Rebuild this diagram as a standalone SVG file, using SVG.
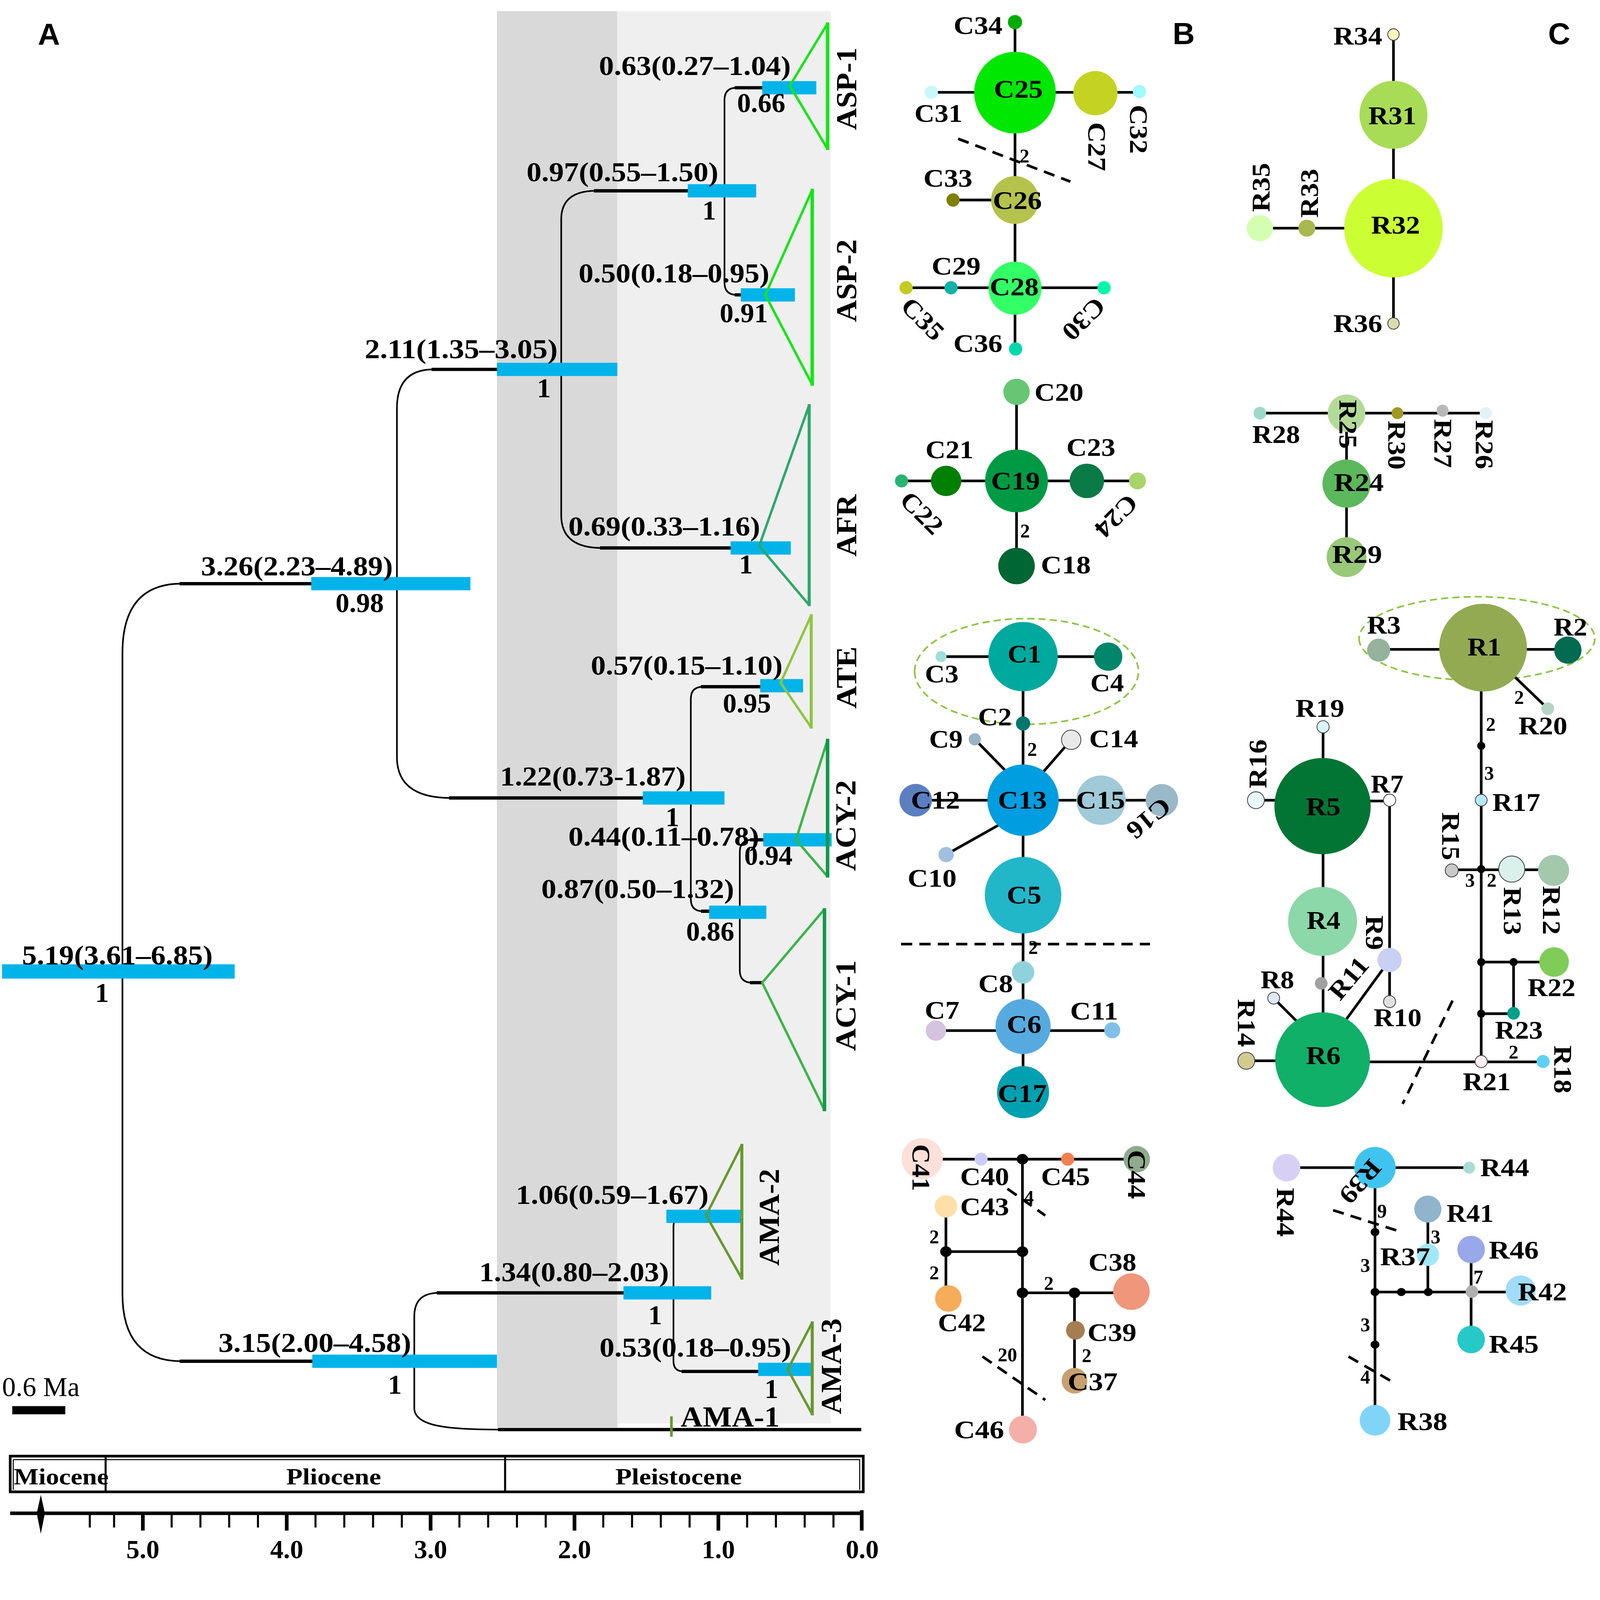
<svg xmlns="http://www.w3.org/2000/svg" width="5039" height="4919" viewBox="0 0 5039 4919" preserveAspectRatio="xMinYMin meet">
<style>
svg:root{width:100vw;height:100vh}
.s{font-family:"Liberation Serif","Times New Roman",serif;font-weight:bold;fill:#000}
.r{font-family:"Liberation Serif","Times New Roman",serif;font-weight:normal;fill:#000}
.tl{font-size:27px;text-anchor:middle}
.cl{font-size:28px;text-anchor:middle}
.nl{font-size:25px;text-anchor:middle}
.mu{font-size:19px;text-anchor:middle}
.ax{font-size:26px;text-anchor:middle}
.ep{font-size:23px;text-anchor:middle}
.pl{font-family:"Liberation Sans",Arial,sans-serif;font-weight:bold;font-size:30px;text-anchor:middle;fill:#000}
.e{stroke:#000;stroke-width:2.6;fill:none}
.br{stroke:#000;stroke-width:3.2;fill:none}
.vb{stroke:#000;stroke-width:1.6;fill:none}
.bar{fill:#00b4ea}
.dash{stroke:#000;stroke-width:2.6;stroke-dasharray:11 7;fill:none}
.gd{stroke:#8dc63f;stroke-width:1.6;stroke-dasharray:7 4;fill:none}
.o{stroke:#444;stroke-width:0.8}
.dot{fill:#000}
.tri{fill:none;stroke-width:2.4;stroke-linejoin:miter}
</style>
<rect x="0" y="0" width="5039" height="4919" fill="#fff"/>
<g transform="scale(3.21365)">
<!-- panel letters -->
<text class="pl" x="48" y="44">A</text>
<text class="pl" x="1160" y="43.4">B</text>
<text class="pl" x="1528" y="43.4">C</text>

<!-- background epochs shading -->
<rect x="487" y="11" width="118" height="1388" fill="#d9d9d9"/>
<rect x="605" y="11" width="209" height="1384" fill="#f0eff0"/>

<!-- tree branches -->
<g id="tree-connectors">
<path class="vb" d="M178 572 Q120 572 120 640 V1268 Q120 1334 178 1334"/>
<path class="br" d="M176 572 H306 M176 1334 H307"/>
<path class="vb" d="M425 362 Q389 362 389 400 V742 Q389 782 442 782"/>
<path class="br" d="M423 362 H488 M440 782 H631"/>
<path class="vb" d="M584 187 Q550 187 550 215 V505 Q550 537 590 537"/>
<path class="br" d="M582 187 H675 M588 537 H717"/>
<path class="vb" d="M722 86 Q710 86 710 98 V277 Q710 289 722 289"/>
<path class="br" d="M720 86 H748 M720 289 H727"/>
<path class="vb" d="M689 673 Q677 673 677 685 V881 Q677 893 689 893"/>
<path class="br" d="M687 673 H746 M687 893 H696"/>
<path class="vb" d="M737 823 Q725 823 725 835 V951 Q725 963 737 963"/>
<path class="br" d="M735 823 H749 M735 963 H748"/>
<path class="vb" d="M430 1267 Q406 1267 406 1290 V1380 C406 1398 440 1401 490 1401"/>
<path class="br" d="M428 1267 H612 M488 1401 H844"/>
<path class="vb" d="M670 1192 Q660 1192 660 1202 V1334 Q660 1344 670 1344"/>
<path class="br" d="M668 1344 H744 M668 1192 H692"/>
</g>

<!-- tree nodes: HPD bars and labels -->
<g id="node-root"><rect class="bar" x="2" y="945" width="228" height="14"/>
<text class="s tl" x="115" y="945" textLength="187" lengthAdjust="spacingAndGlyphs">5.19(3.61–6.85)</text>
<text class="s tl" x="100" y="982">1</text></g>
<g id="node-326"><rect class="bar" x="305" y="565.5" width="156" height="13"/>
<text class="s tl" x="291" y="564" textLength="188" lengthAdjust="spacingAndGlyphs">3.26(2.23–4.89)</text>
<text class="s tl" x="352.5" y="600">0.98</text></g>
<g id="node-211"><rect class="bar" x="487" y="355.5" width="118" height="13"/>
<text class="s tl" x="452" y="351" textLength="189" lengthAdjust="spacingAndGlyphs">2.11(1.35–3.05)</text>
<text class="s tl" x="533" y="389.5">1</text></g>
<g id="node-097"><rect class="bar" x="674" y="180.5" width="67" height="13"/>
<text class="s tl" x="610" y="177.5" textLength="188" lengthAdjust="spacingAndGlyphs">0.97(0.55–1.50)</text>
<text class="s tl" x="695" y="215">1</text></g>
<g id="node-063"><rect class="bar" x="747" y="79.5" width="53" height="13"/>
<text class="s tl" x="681" y="73.5" textLength="188" lengthAdjust="spacingAndGlyphs">0.63(0.27–1.04)</text>
<text class="s tl" x="746" y="109.7">0.66</text></g>
<g id="node-050"><rect class="bar" x="726" y="282.5" width="53" height="13"/>
<text class="s tl" x="660.5" y="276.8" textLength="187" lengthAdjust="spacingAndGlyphs">0.50(0.18–0.95)</text>
<text class="s tl" x="729" y="316">0.91</text></g>
<g id="node-069"><rect class="bar" x="716" y="530.5" width="59" height="13"/>
<text class="s tl" x="651" y="525" textLength="188" lengthAdjust="spacingAndGlyphs">0.69(0.33–1.16)</text>
<text class="s tl" x="731" y="562">1</text></g>
<g id="node-122"><rect class="bar" x="630" y="775.5" width="80" height="13"/>
<text class="s tl" x="581" y="770" textLength="182" lengthAdjust="spacingAndGlyphs">1.22(0.73-1.87)</text>
<text class="s tl" x="659" y="809.5">1</text></g>
<g id="node-057"><rect class="bar" x="745" y="665.5" width="42" height="13"/>
<text class="s tl" x="673" y="661.3" textLength="188" lengthAdjust="spacingAndGlyphs">0.57(0.15–1.10)</text>
<text class="s tl" x="732" y="698.4">0.95</text></g>
<g id="node-044"><rect class="bar" x="748" y="816.5" width="67" height="13"/>
<text class="s tl" x="650.5" y="828.8" textLength="187" lengthAdjust="spacingAndGlyphs">0.44(0.11–0.78)</text>
<text class="s tl" x="753" y="847.7">0.94</text></g>
<g id="node-087"><rect class="bar" x="695" y="887.5" width="56" height="13"/>
<text class="s tl" x="625" y="880" textLength="189" lengthAdjust="spacingAndGlyphs">0.87(0.50–1.32)</text>
<text class="s tl" x="696" y="922">0.86</text></g>
<g id="node-315"><rect class="bar" x="306" y="1327.5" width="181" height="13"/>
<text class="s tl" x="308.5" y="1324.8" textLength="189" lengthAdjust="spacingAndGlyphs">3.15(2.00–4.58)</text>
<text class="s tl" x="387" y="1366">1</text></g>
<g id="node-134"><rect class="bar" x="611" y="1260.5" width="86" height="13"/>
<text class="s tl" x="562.6" y="1255.5" textLength="186" lengthAdjust="spacingAndGlyphs">1.34(0.80–2.03)</text>
<text class="s tl" x="642" y="1297.7">1</text></g>
<g id="node-106"><rect class="bar" x="653" y="1185.5" width="73" height="13"/>
<text class="s tl" x="600" y="1180" textLength="189" lengthAdjust="spacingAndGlyphs">1.06(0.59–1.67)</text></g>
<g id="node-053"><rect class="bar" x="743" y="1335.5" width="52" height="13"/>
<text class="s tl" x="681.5" y="1329.4" textLength="188" lengthAdjust="spacingAndGlyphs">0.53(0.18–0.95)</text>
<text class="s tl" x="756" y="1370">1</text></g>

<!-- collapsed clades -->
<g id="clade-ASP1"><path class="tri" stroke="#14e614" d="M811 23 L774 84 L811 146"/><path stroke="#14e614" stroke-width="3.4" d="M811 22 V147"/>
<text class="s cl" transform="translate(830 87) rotate(-90)" y="9.3" textLength="81" lengthAdjust="spacingAndGlyphs">ASP-1</text></g>
<g id="clade-ASP2"><path class="tri" stroke="#14e614" d="M796 186 L750 289 L796 377"/><path stroke="#14e614" stroke-width="3.4" d="M796 185 V378"/>
<text class="s cl" transform="translate(830 275) rotate(-90)" y="9.3" textLength="81" lengthAdjust="spacingAndGlyphs">ASP-2</text></g>
<g id="clade-AFR"><path class="tri" stroke="#2aa86a" d="M793 397 L744 535 L793 593"/><path stroke="#2aa86a" stroke-width="3" d="M793 396 V594"/>
<text class="s cl" transform="translate(830 515) rotate(-90)" y="9.3" textLength="61" lengthAdjust="spacingAndGlyphs">AFR</text></g>
<g id="clade-ATE"><path class="tri" stroke="#8dc63f" d="M795 603 L765 669 L795 713"/><path stroke="#8dc63f" stroke-width="3" d="M795 602 V714"/>
<text class="s cl" transform="translate(830 664) rotate(-90)" y="9.3" textLength="61" lengthAdjust="spacingAndGlyphs">ATE</text></g>
<g id="clade-ACY2"><path class="tri" stroke="#3ab54a" d="M811 725 L780 823 L811 859"/><path stroke="#0e9a4a" stroke-width="3.4" d="M811 724 V860"/>
<text class="s cl" transform="translate(829 809) rotate(-90)" y="9.3" textLength="89" lengthAdjust="spacingAndGlyphs">ACY-2</text></g>
<g id="clade-ACY1"><path class="tri" stroke="#3ab54a" d="M808 891 L747 963 L808 1088"/><path stroke="#0e9a4a" stroke-width="3.4" d="M808 890 V1089"/>
<text class="s cl" transform="translate(829 985.5) rotate(-90)" y="9.3" textLength="89" lengthAdjust="spacingAndGlyphs">ACY-1</text></g>
<g id="clade-AMA2"><path class="tri" stroke="#66992e" d="M727 1122 L692 1191 L727 1253"/><path stroke="#66992e" stroke-width="3" d="M727 1121 V1254"/>
<text class="s cl" transform="translate(754 1193) rotate(-90)" y="9.3" textLength="95" lengthAdjust="spacingAndGlyphs">AMA-2</text></g>
<g id="clade-AMA3"><path class="tri" stroke="#66992e" d="M796 1296 L772 1342 L796 1386"/><path stroke="#66992e" stroke-width="3" d="M796 1295 V1387"/>
<text class="s cl" transform="translate(815 1339) rotate(-90)" y="9.3" textLength="94" lengthAdjust="spacingAndGlyphs">AMA-3</text></g>
<g id="clade-AMA1"><path stroke="#66992e" stroke-width="2.6" d="M658 1388 V1408"/>
<text class="s cl" x="715.5" y="1398" textLength="97" lengthAdjust="spacingAndGlyphs">AMA-1</text></g>

<!-- scale bar -->
<g id="scale-bar"><rect x="12" y="1378" width="52" height="8" fill="#000"/>
<text class="r" x="2" y="1368" font-size="27" textLength="76" lengthAdjust="spacingAndGlyphs">0.6 Ma</text></g>

<!-- epoch box -->
<g id="epochs">
<rect x="10" y="1427" width="836" height="35" fill="none" stroke="#000" stroke-width="2.6"/>
<path d="M13 1430.5 H843 M13 1430.5 V1460 M842.5 1430.5 V1460" stroke="#000" stroke-width="1" fill="none"/>
<path d="M103.5 1427 V1462 M495 1427 V1462" stroke="#000" stroke-width="2"/>
<text class="s ep" x="60" y="1454.5" textLength="93" lengthAdjust="spacingAndGlyphs">Miocene</text>
<text class="s ep" x="327" y="1454.5" textLength="93" lengthAdjust="spacingAndGlyphs">Pliocene</text>
<text class="s ep" x="665" y="1454.5" textLength="124" lengthAdjust="spacingAndGlyphs">Pleistocene</text>
</g>

<!-- time axis -->
<g id="time-axis">
<path d="M10 1483 H846" stroke="#000" stroke-width="3.5"/>
<path stroke="#000" stroke-width="2" d="M88 1483 V1497 M111.8 1483 V1497 M168.2 1483 V1497 M196.4 1483 V1497 M224.6 1483 V1497 M252.8 1483 V1497 M309.2 1483 V1497 M337.4 1483 V1497 M365.6 1483 V1497 M393.8 1483 V1497 M450.2 1483 V1497 M478.4 1483 V1497 M506.6 1483 V1497 M534.8 1483 V1497 M591.2 1483 V1497 M619.4 1483 V1497 M647.6 1483 V1497 M675.8 1483 V1497 M732.2 1483 V1497 M760.4 1483 V1497 M788.6 1483 V1497 M816.8 1483 V1497"/>
<path stroke="#000" stroke-width="3.6" d="M140 1483 V1500 M281 1483 V1500 M422 1483 V1500 M563 1483 V1500 M704 1483 V1500 M844.5 1480 V1500"/>
<path d="M40 1465 L44 1483 L40 1503 L36 1483 Z" fill="#000"/>
<text class="s ax" x="140" y="1527">5.0</text>
<text class="s ax" x="281" y="1527">4.0</text>
<text class="s ax" x="422" y="1527">3.0</text>
<text class="s ax" x="563" y="1527">2.0</text>
<text class="s ax" x="704" y="1527">1.0</text>
<text class="s ax" x="845" y="1527">0.0</text>
</g>

<!-- ===== Panel B connectors ===== -->
<g id="connectors-B">
<path class="e" d="M994.7 21.7 V342 M912.7 90.5 H1116.7 M934 196 H994.7 M888 282 H1082"/>
<path class="dash" d="M939 136 L1049 178"/>
<path class="e" d="M996.2 384 V554.7 M883.5 471.3 H1114.7"/>
<path class="gd" d="M896.3 658 A109.7 51.8 0 1 0 1115.7 658 A109.7 51.8 0 1 0 896.3 658 Z"/>
<path class="e" d="M922.2 643.5 H1086 M1002.6 643.5 V1070.3 M955.3 724.5 L990 760 M1049.8 725 L1015 765 M927.2 837.5 L985 805 M897.4 784.2 H1138.6 M917.2 1010 H1090"/>
<path class="dash" d="M883 925.2 H1127"/>
<path class="e" d="M903.8 1136 H1114 M1002 1136 V1401 M927 1182 V1272.5 M927 1226.6 H1002 M1002 1267 H1108.8 M1053 1267 V1353"/>
<path class="dash" d="M987.3 1165 L1024.4 1191.2 M962.8 1329.4 L1024.4 1372"/>
</g>

<!-- ===== Panel C connectors ===== -->
<g id="connectors-C">
<path class="e" d="M1365.6 33.8 V317 M1234.7 223.6 H1365.6"/>
<path class="e" d="M1234.7 404.9 H1456 M1319.6 404.9 V546"/>
<path class="gd" d="M1331.9 625.8 A115.5 41 0 1 0 1562.9 625.8 A115.5 41 0 1 0 1331.9 625.8 Z"/>
<path class="e" d="M1351.1 636.4 H1536.5 M1480 659 L1516.8 694.5 M1451.6 634.7 V1040.3 M1422.7 852.4 H1522.5 M1451.6 942.8 H1523 M1483.3 942.8 V993 M1451.6 993.4 H1483.3 M1296.1 1040.6 H1512.2 M1221.4 1039.6 H1296.1 M1248.2 978.2 L1275 1005 M1296.6 712.3 V1038 M1230.8 784.2 H1296.1 M1296.1 785 H1361.8 M1361.8 784.2 V981.6 M1361.8 940.8 L1315 1005"/>
<path class="dash" d="M1423.5 980.6 L1374.6 1081.8"/>
<path class="e" d="M1260.8 1144.3 H1439.8 M1347.5 1144.3 V1391.9 M1347.5 1266.2 H1490.2 M1399.3 1184.9 V1266.2 M1441.7 1224.5 V1312.7"/>
<path class="dash" d="M1306.4 1186 L1368.6 1205.8 M1321.5 1329.4 L1363 1353.3"/>
</g>

<!-- ===== Panel B nodes ===== -->
<g id="C34"><circle cx="994.7" cy="21.7" r="7" fill="#00ad00"/><text class="s nl" x="958.5" y="33.3" textLength="48" lengthAdjust="spacingAndGlyphs">C34</text></g>
<g id="C25"><circle cx="994.7" cy="90.8" r="40" fill="#00e800"/><text class="s nl" x="998" y="95.6" textLength="48" lengthAdjust="spacingAndGlyphs">C25</text></g>
<g id="C31"><circle cx="912.7" cy="90.4" r="6.5" fill="#c8f8fa"/><text class="s nl" x="919.7" y="119.6" textLength="47" lengthAdjust="spacingAndGlyphs">C31</text></g>
<g id="C27"><circle cx="1073.5" cy="91.3" r="21.7" fill="#c4d322"/><text class="s nl" transform="translate(1075 143.8) rotate(90)" y="8.3" textLength="48" lengthAdjust="spacingAndGlyphs">C27</text></g>
<g id="C32"><circle cx="1116.7" cy="89.7" r="6.5" fill="#a0faff"/><text class="s nl" transform="translate(1115.8 126.7) rotate(90)" y="8.3" textLength="48" lengthAdjust="spacingAndGlyphs">C32</text></g>
<g id="C26"><circle cx="994.7" cy="196" r="23.4" fill="#b5c24c"/><text class="s nl" x="997" y="204.9" textLength="48" lengthAdjust="spacingAndGlyphs">C26</text></g>
<g id="C33"><circle cx="934" cy="196" r="6.5" fill="#7f7f00"/><text class="s nl" x="929" y="182.9" textLength="48" lengthAdjust="spacingAndGlyphs">C33</text></g>
<g id="C28"><circle cx="994.7" cy="282.5" r="26" fill="#33ff66"/><text class="s nl" x="994" y="289.5" textLength="48" lengthAdjust="spacingAndGlyphs">C28</text></g>
<g id="C29"><circle cx="932" cy="282" r="6.5" fill="#13b3a8"/><text class="s nl" x="937" y="269.3" textLength="48" lengthAdjust="spacingAndGlyphs">C29</text></g>
<g id="C35"><circle cx="888" cy="282" r="6.5" fill="#c2cc22"/><text class="s nl" transform="translate(904.3 312.6) rotate(45)" y="8.3" textLength="48" lengthAdjust="spacingAndGlyphs">C35</text></g>
<g id="C30"><circle cx="1082" cy="282" r="6.5" fill="#00f7aa"/><text class="s nl" transform="translate(1062.1 312.6) rotate(135)" y="8.3" textLength="48" lengthAdjust="spacingAndGlyphs">C30</text></g>
<g id="C36"><circle cx="995.3" cy="342" r="6.5" fill="#00d8aa"/><text class="s nl" x="958.4" y="344.9" textLength="48" lengthAdjust="spacingAndGlyphs">C36</text></g>

<g id="C20"><circle cx="996.2" cy="384" r="12.9" fill="#66c673"/><text class="s nl" x="1037.8" y="392.9" textLength="48" lengthAdjust="spacingAndGlyphs">C20</text></g>
<g id="C19"><circle cx="996.2" cy="471.3" r="30.8" fill="#009a44"/><text class="s nl" x="995.2" y="479.8" textLength="48" lengthAdjust="spacingAndGlyphs">C19</text></g>
<g id="C21"><circle cx="927.2" cy="471.3" r="14.9" fill="#008000"/><text class="s nl" x="930.5" y="449.1" textLength="47" lengthAdjust="spacingAndGlyphs">C21</text></g>
<g id="C22"><circle cx="883.5" cy="471.3" r="6.4" fill="#26b573"/><text class="s nl" transform="translate(903.3 502.7) rotate(45)" y="8.3" textLength="48" lengthAdjust="spacingAndGlyphs">C22</text></g>
<g id="C23"><circle cx="1065.1" cy="471.3" r="16.9" fill="#0a7a46"/><text class="s nl" x="1069.1" y="446.7" textLength="48" lengthAdjust="spacingAndGlyphs">C23</text></g>
<g id="C24"><circle cx="1114.7" cy="471.3" r="8.3" fill="#a8d46a"/><text class="s nl" transform="translate(1093.9 505.7) rotate(135)" y="8.3" textLength="48" lengthAdjust="spacingAndGlyphs">C24</text></g>
<g id="C18"><circle cx="996.2" cy="554.7" r="17.9" fill="#006633"/><text class="s nl" x="1044.5" y="562.1" textLength="49" lengthAdjust="spacingAndGlyphs">C18</text></g>

<g id="C1"><circle cx="1002.6" cy="643.5" r="34" fill="#00a99d"/><text class="s nl" x="1004" y="649.3" textLength="33" lengthAdjust="spacingAndGlyphs">C1</text></g>
<g id="C3"><circle cx="922.2" cy="643.5" r="5.4" fill="#a0e0da"/><text class="s nl" x="922.9" y="668.7" textLength="33" lengthAdjust="spacingAndGlyphs">C3</text></g>
<g id="C4"><circle cx="1086" cy="643.5" r="13.9" fill="#00866a"/><text class="s nl" x="1085" y="677.6" textLength="33" lengthAdjust="spacingAndGlyphs">C4</text></g>
<g id="C2"><circle cx="1002.6" cy="709" r="7" fill="#00776a"/><text class="s nl" x="975" y="710.8" textLength="33" lengthAdjust="spacingAndGlyphs">C2</text></g>
<g id="C9"><circle cx="955.3" cy="724.5" r="6" fill="#9ab3c4"/><text class="s nl" x="927" y="732.8" textLength="33" lengthAdjust="spacingAndGlyphs">C9</text></g>
<g id="C14"><circle cx="1049.8" cy="725" r="9.5" fill="#e8e8e8" class="o"/><text class="s nl" x="1091.4" y="732.4" textLength="48" lengthAdjust="spacingAndGlyphs">C14</text></g>
<g id="C13"><circle cx="1002.6" cy="784.2" r="35" fill="#009de0"/><text class="s nl" x="1001.9" y="792.6" textLength="48" lengthAdjust="spacingAndGlyphs">C13</text></g>
<g id="C12"><circle cx="897.4" cy="784.2" r="16" fill="#5b7fc1"/><text class="s nl" x="916.7" y="792.6" textLength="48" lengthAdjust="spacingAndGlyphs">C12</text></g>
<g id="C15"><circle cx="1079" cy="784.2" r="24.2" fill="#a0cad8"/><text class="s nl" x="1078.5" y="792.6" textLength="48" lengthAdjust="spacingAndGlyphs">C15</text></g>
<g id="C16"><circle cx="1138.6" cy="784.2" r="15.9" fill="#99b8c8"/><text class="s nl" transform="translate(1125.7 802) rotate(140)" y="8.3" textLength="48" lengthAdjust="spacingAndGlyphs">C16</text></g>
<g id="C10"><circle cx="927.2" cy="837.5" r="7.5" fill="#a0c0e0"/><text class="s nl" x="913.5" y="868.9" textLength="48" lengthAdjust="spacingAndGlyphs">C10</text></g>
<g id="C5"><circle cx="1002.6" cy="877.3" r="37.5" fill="#22b6c9"/><text class="s nl" x="1003.6" y="885.5" textLength="34" lengthAdjust="spacingAndGlyphs">C5</text></g>
<g id="C8"><circle cx="1002.6" cy="952.9" r="11" fill="#90d2dc"/><text class="s nl" x="975.8" y="972.3" textLength="34" lengthAdjust="spacingAndGlyphs">C8</text></g>
<g id="C6"><circle cx="1002.6" cy="1006" r="27" fill="#56aae0"/><text class="s nl" x="1003.6" y="1012" textLength="34" lengthAdjust="spacingAndGlyphs">C6</text></g>
<g id="C7"><circle cx="917.2" cy="1010" r="10" fill="#d4c4e0"/><text class="s nl" x="923.2" y="998.5" textLength="34" lengthAdjust="spacingAndGlyphs">C7</text></g>
<g id="C11"><circle cx="1090" cy="1009.6" r="7.9" fill="#80c0e8"/><text class="s nl" x="1072.2" y="999.3" textLength="47" lengthAdjust="spacingAndGlyphs">C11</text></g>
<g id="C17"><circle cx="1002.6" cy="1070.3" r="25.5" fill="#00a0b0"/><text class="s nl" x="1001.9" y="1079.8" textLength="48" lengthAdjust="spacingAndGlyphs">C17</text></g>

<g id="J-B1"><ellipse class="dot" cx="1002" cy="1136" rx="5.6" ry="5.2"/></g>
<g id="J-B2"><ellipse class="dot" cx="927" cy="1226.6" rx="5.6" ry="5.2"/></g>
<g id="J-B3"><ellipse class="dot" cx="1002" cy="1226.6" rx="5.6" ry="5.2"/></g>
<g id="J-B4"><ellipse class="dot" cx="1002" cy="1267" rx="5.6" ry="5.2"/></g>
<g id="J-B5"><ellipse class="dot" cx="1053" cy="1267" rx="5.6" ry="5.2"/></g>
<g id="C41"><circle cx="903.8" cy="1135.5" r="20.2" fill="#fde0d8"/><text class="s nl" transform="translate(902.5 1144.3) rotate(90)" y="8.3" textLength="46" lengthAdjust="spacingAndGlyphs">C41</text></g>
<g id="C40"><circle cx="961.5" cy="1136" r="6.4" fill="#ccccff"/><text class="s nl" x="965" y="1161.5" textLength="48" lengthAdjust="spacingAndGlyphs">C40</text></g>
<g id="C45"><circle cx="1046.3" cy="1136" r="6.4" fill="#f08050"/><text class="s nl" x="1044.2" y="1161.5" textLength="48" lengthAdjust="spacingAndGlyphs">C45</text></g>
<g id="C44"><circle cx="1114" cy="1136" r="13" fill="#8faa8c"/><text class="s nl" transform="translate(1114 1151) rotate(90)" y="8.3" textLength="48" lengthAdjust="spacingAndGlyphs">C44</text></g>
<g id="C43"><circle cx="927" cy="1182.2" r="11" fill="#fde0a8"/><text class="s nl" x="965" y="1191.1" textLength="48" lengthAdjust="spacingAndGlyphs">C43</text></g>
<g id="C42"><circle cx="929.4" cy="1272.5" r="13" fill="#f5ad5a"/><text class="s nl" x="942.6" y="1304.7" textLength="47" lengthAdjust="spacingAndGlyphs">C42</text></g>
<g id="C38"><circle cx="1108.8" cy="1265.8" r="17.9" fill="#f0967a"/><text class="s nl" x="1090.2" y="1245.3" textLength="47" lengthAdjust="spacingAndGlyphs">C38</text></g>
<g id="C39"><circle cx="1053.9" cy="1303.7" r="9.2" fill="#a67c52"/><text class="s nl" x="1089.8" y="1314.1" textLength="48" lengthAdjust="spacingAndGlyphs">C39</text></g>
<g id="C37"><circle cx="1053" cy="1353.1" r="12.6" fill="#c8a070"/><text class="s nl" x="1070.8" y="1362.5" textLength="49" lengthAdjust="spacingAndGlyphs">C37</text></g>
<g id="C46"><circle cx="1002.5" cy="1401" r="13.7" fill="#f4b0a8"/><text class="s nl" x="959.5" y="1409.5" textLength="49" lengthAdjust="spacingAndGlyphs">C46</text></g>

<g id="mutations-B">
<text class="s mu" x="1004" y="159.3">2</text>
<text class="s mu" x="1004.6" y="526.9">2</text>
<text class="s mu" x="1011.5" y="740.9">2</text>
<text class="s mu" x="1012.5" y="934.9">2</text>
<text class="s mu" x="1008.4" y="1179.8">4</text>
<text class="s mu" x="915.6" y="1218.3">2</text>
<text class="s mu" x="915.6" y="1253.8">2</text>
<text class="s mu" x="1027.8" y="1264.2">2</text>
<text class="s mu" x="1064.9" y="1335">2</text>
<text class="s mu" x="987.3" y="1334">20</text>
</g>

<!-- ===== Panel C nodes ===== -->
<g id="R34"><circle cx="1365.6" cy="33.8" r="5.6" fill="#fff5c0" class="o"/><text class="s nl" x="1330.6" y="43.7" textLength="48" lengthAdjust="spacingAndGlyphs">R34</text></g>
<g id="R31"><circle cx="1365.6" cy="112.5" r="33.3" fill="#a8dc56"/><text class="s nl" x="1364.5" y="121.8" textLength="47" lengthAdjust="spacingAndGlyphs">R31</text></g>
<g id="R32"><circle cx="1365.6" cy="223.6" r="48.3" fill="#ccff33"/><text class="s nl" x="1367.7" y="229.1" textLength="48" lengthAdjust="spacingAndGlyphs">R32</text></g>
<g id="R33"><circle cx="1280.7" cy="223.6" r="8.3" fill="#a9b84f"/><text class="s nl" transform="translate(1283.3 189.4) rotate(-90)" y="8.3" textLength="48" lengthAdjust="spacingAndGlyphs">R33</text></g>
<g id="R35"><circle cx="1234.7" cy="223.6" r="12.9" fill="#d4ffb0"/><text class="s nl" transform="translate(1236 183.7) rotate(-90)" y="8.3" textLength="48" lengthAdjust="spacingAndGlyphs">R35</text></g>
<g id="R36"><circle cx="1365.6" cy="317" r="5.6" fill="#d8dcb0" class="o"/><text class="s nl" x="1330.6" y="325.5" textLength="48" lengthAdjust="spacingAndGlyphs">R36</text></g>

<g id="R28"><circle cx="1234.7" cy="404.9" r="6.2" fill="#a0d8c8"/><text class="s nl" x="1250.6" y="434.1" textLength="47" lengthAdjust="spacingAndGlyphs">R28</text></g>
<g id="R25"><circle cx="1319.6" cy="404.9" r="18.4" fill="#b4da98"/><text class="s nl" transform="translate(1321 415.8) rotate(90)" y="8.3" textLength="48" lengthAdjust="spacingAndGlyphs">R25</text></g>
<g id="R30"><circle cx="1369.5" cy="404.9" r="5.8" fill="#a09820"/><text class="s nl" transform="translate(1369 436.2) rotate(90)" y="8.3" textLength="48" lengthAdjust="spacingAndGlyphs">R30</text></g>
<g id="R27"><circle cx="1413.7" cy="402.5" r="5.9" fill="#b8b8b8"/><text class="s nl" transform="translate(1413.8 434.7) rotate(90)" y="8.3" textLength="48" lengthAdjust="spacingAndGlyphs">R27</text></g>
<g id="R26"><circle cx="1456" cy="404.9" r="5.9" fill="#e0f4f8"/><text class="s nl" transform="translate(1454.6 435.7) rotate(90)" y="8.3" textLength="48" lengthAdjust="spacingAndGlyphs">R26</text></g>
<g id="R24"><circle cx="1319.6" cy="473.9" r="23.6" fill="#5cb85c"/><text class="s nl" x="1331.6" y="481.3" textLength="49" lengthAdjust="spacingAndGlyphs">R24</text></g>
<g id="R29"><circle cx="1319.6" cy="546" r="19.5" fill="#98c878"/><text class="s nl" x="1330" y="551.7" textLength="49" lengthAdjust="spacingAndGlyphs">R29</text></g>

<g id="J-C1"><circle class="dot" cx="1451.6" cy="730.9" r="4"/></g>
<g id="J-C2"><circle class="dot" cx="1451.6" cy="851.7" r="4"/></g>
<g id="J-C3"><circle class="dot" cx="1451.6" cy="942.8" r="4"/></g>
<g id="J-C4"><circle class="dot" cx="1483.3" cy="942.8" r="4"/></g>
<g id="J-C5"><circle class="dot" cx="1451.6" cy="993.4" r="4"/></g>
<g id="R1"><circle cx="1453.4" cy="634.7" r="43" fill="#92ab52"/><text class="s nl" x="1454.6" y="642.2" textLength="33" lengthAdjust="spacingAndGlyphs">R1</text></g>
<g id="R3"><circle cx="1351.1" cy="637.1" r="11.3" fill="#94b29c"/><text class="s nl" x="1356.2" y="621.1" textLength="33" lengthAdjust="spacingAndGlyphs">R3</text></g>
<g id="R2"><circle cx="1536.5" cy="637.1" r="13.4" fill="#006b50"/><text class="s nl" x="1539" y="622.8" textLength="33" lengthAdjust="spacingAndGlyphs">R2</text></g>
<g id="R20"><circle cx="1516.8" cy="694.5" r="6.2" fill="#b4d4c4"/><text class="s nl" x="1512" y="719.8" textLength="48" lengthAdjust="spacingAndGlyphs">R20</text></g>
<g id="R17"><circle cx="1451.6" cy="784.2" r="5.8" fill="#b8e8f8" class="o"/><text class="s nl" x="1486" y="794.6" textLength="47" lengthAdjust="spacingAndGlyphs">R17</text></g>
<g id="R15"><circle cx="1422.7" cy="853" r="6.4" fill="#c8c8c8" class="o"/><text class="s nl" transform="translate(1421.5 819.5) rotate(90)" y="8.3" textLength="47" lengthAdjust="spacingAndGlyphs">R15</text></g>
<g id="R13"><circle cx="1481.5" cy="851.7" r="12.8" fill="#daf0ea" class="o"/><text class="s nl" transform="translate(1482 892.8) rotate(90)" y="8.3" textLength="47" lengthAdjust="spacingAndGlyphs">R13</text></g>
<g id="R12"><circle cx="1522.5" cy="853" r="15.2" fill="#a4c8ac"/><text class="s nl" transform="translate(1520.3 892) rotate(90)" y="8.3" textLength="48" lengthAdjust="spacingAndGlyphs">R12</text></g>
<g id="R22"><circle cx="1523" cy="942.8" r="14.5" fill="#80cc58"/><text class="s nl" x="1520.5" y="976.3" textLength="47" lengthAdjust="spacingAndGlyphs">R22</text></g>
<g id="R23"><circle cx="1483.3" cy="993" r="6.2" fill="#00a08a"/><text class="s nl" x="1488.5" y="1017.9" textLength="47" lengthAdjust="spacingAndGlyphs">R23</text></g>
<g id="R21"><circle cx="1451.6" cy="1040.3" r="6" fill="#fdf0f4" class="o"/><text class="s nl" x="1457" y="1068.6" textLength="47" lengthAdjust="spacingAndGlyphs">R21</text></g>
<g id="R18"><circle cx="1512.2" cy="1040.3" r="6.4" fill="#5ed0f8"/><text class="s nl" transform="translate(1531.5 1048) rotate(90)" y="8.3" textLength="47" lengthAdjust="spacingAndGlyphs">R18</text></g>
<g id="R19"><circle cx="1296.6" cy="712.3" r="6" fill="#d8f4f8" class="o"/><text class="s nl" x="1293.5" y="702.6" textLength="48" lengthAdjust="spacingAndGlyphs">R19</text></g>
<g id="R16"><circle cx="1230.8" cy="784.2" r="8.3" fill="#e8f8fc" class="o"/><text class="s nl" transform="translate(1232.8 748.6) rotate(-90)" y="8.3" textLength="48" lengthAdjust="spacingAndGlyphs">R16</text></g>
<g id="R5"><circle cx="1296.1" cy="790" r="47.2" fill="#027535"/><text class="s nl" x="1296.8" y="799.1" textLength="34" lengthAdjust="spacingAndGlyphs">R5</text></g>
<g id="R7"><circle cx="1361.8" cy="784.2" r="6" fill="#ffffff" class="o"/><text class="s nl" x="1359.4" y="776.8" textLength="32" lengthAdjust="spacingAndGlyphs">R7</text></g>
<g id="R4"><circle cx="1296.1" cy="903" r="33.8" fill="#8cd8a8"/><text class="s nl" x="1297" y="910.3" textLength="33" lengthAdjust="spacingAndGlyphs">R4</text></g>
<g id="R9"><circle cx="1361.8" cy="940.8" r="11.9" fill="#c8d0f4"/><text class="s nl" transform="translate(1347 914) rotate(90)" y="8.3" textLength="34" lengthAdjust="spacingAndGlyphs">R9</text></g>
<g id="R10"><circle cx="1361.8" cy="981.6" r="5.9" fill="#e0e0e0" class="o"/><text class="s nl" x="1369.7" y="1005.7" textLength="47" lengthAdjust="spacingAndGlyphs">R10</text></g>
<g id="R11"><circle cx="1294.8" cy="963.7" r="6.2" fill="#a0a0a0"/><text class="s nl" transform="translate(1321.7 958.7) rotate(-50)" y="8.3" textLength="46" lengthAdjust="spacingAndGlyphs">R11</text></g>
<g id="R8"><circle cx="1248.2" cy="978.2" r="5.8" fill="#e0e8f8" class="o"/><text class="s nl" x="1251.8" y="968.6" textLength="33" lengthAdjust="spacingAndGlyphs">R8</text></g>
<g id="R6"><circle cx="1296.1" cy="1038.5" r="46.4" fill="#10b068"/><text class="s nl" x="1296.8" y="1042.8" textLength="34" lengthAdjust="spacingAndGlyphs">R6</text></g>
<g id="R14"><circle cx="1221.4" cy="1039.6" r="8.3" fill="#d0cc90" class="o"/><text class="s nl" transform="translate(1221.3 1002.5) rotate(90)" y="8.3" textLength="47" lengthAdjust="spacingAndGlyphs">R14</text></g>

<g id="J-C6"><ellipse class="dot" cx="1347.5" cy="1207.4" rx="4.3" ry="4"/></g>
<g id="J-C7"><ellipse class="dot" cx="1347.5" cy="1266.2" rx="4.3" ry="4"/></g>
<g id="J-C8"><ellipse class="dot" cx="1347.5" cy="1317.7" rx="4.3" ry="4"/></g>
<g id="J-C9"><ellipse class="dot" cx="1373.3" cy="1266.2" rx="4.3" ry="4"/></g>
<g id="J-C10"><ellipse class="dot" cx="1399.7" cy="1266.2" rx="4.3" ry="4"/></g>
<g id="R44a"><circle cx="1260.8" cy="1144.3" r="13.5" fill="#d8d0f4"/><text class="s nl" transform="translate(1259.8 1188) rotate(90)" y="8.3" textLength="48" lengthAdjust="spacingAndGlyphs">R44</text></g>
<g id="R39"><circle cx="1347.5" cy="1144.3" r="20.3" fill="#3fc4f0"/><text class="s nl" transform="translate(1333 1158) rotate(131)" y="8.3" textLength="48" lengthAdjust="spacingAndGlyphs">R39</text></g>
<g id="R44b"><circle cx="1439.8" cy="1144.3" r="5.8" fill="#a8dcd4"/><text class="s nl" x="1474.6" y="1152.6" textLength="48" lengthAdjust="spacingAndGlyphs">R44</text></g>
<g id="R41"><circle cx="1399.3" cy="1184.9" r="13.3" fill="#90b4cc"/><text class="s nl" x="1440.7" y="1197.3" textLength="46" lengthAdjust="spacingAndGlyphs">R41</text></g>
<g id="R37"><circle cx="1399.3" cy="1229.7" r="10.9" fill="#a0e8f8"/><text class="s nl" x="1377" y="1240.1" textLength="49" lengthAdjust="spacingAndGlyphs">R37</text></g>
<g id="R46"><circle cx="1441.7" cy="1224.5" r="13.5" fill="#98a8e8"/><text class="s nl" x="1483.5" y="1233.3" textLength="49" lengthAdjust="spacingAndGlyphs">R46</text></g>
<g id="mv-gray"><circle cx="1442.5" cy="1265.8" r="6.2" fill="#b0b0b0"/></g>
<g id="R42"><circle cx="1490.2" cy="1264.7" r="14.8" fill="#a0dcf8"/><text class="s nl" x="1511.5" y="1274.3" textLength="48" lengthAdjust="spacingAndGlyphs">R42</text></g>
<g id="R45"><circle cx="1441.7" cy="1312.7" r="13.5" fill="#26c8c8"/><text class="s nl" x="1483.5" y="1325.8" textLength="49" lengthAdjust="spacingAndGlyphs">R45</text></g>
<g id="R38"><circle cx="1347.5" cy="1391.9" r="15" fill="#80d4f8"/><text class="s nl" x="1394" y="1401.3" textLength="49" lengthAdjust="spacingAndGlyphs">R38</text></g>

<g id="mutations-C">
<text class="s mu" x="1488.7" y="690">2</text>
<text class="s mu" x="1461" y="716.3">2</text>
<text class="s mu" x="1459.3" y="764.2">3</text>
<text class="s mu" x="1440.6" y="868.8">3</text>
<text class="s mu" x="1461.8" y="868.8">2</text>
<text class="s mu" x="1483.3" y="1037.5">2</text>
<text class="s mu" x="1354.4" y="1193.3">9</text>
<text class="s mu" x="1406.9" y="1218.3">3</text>
<text class="s mu" x="1448.7" y="1257.9">7</text>
<text class="s mu" x="1338" y="1246.5">3</text>
<text class="s mu" x="1338" y="1304.8">3</text>
<text class="s mu" x="1338" y="1355.9">4</text>
</g>
</g>
</svg>
